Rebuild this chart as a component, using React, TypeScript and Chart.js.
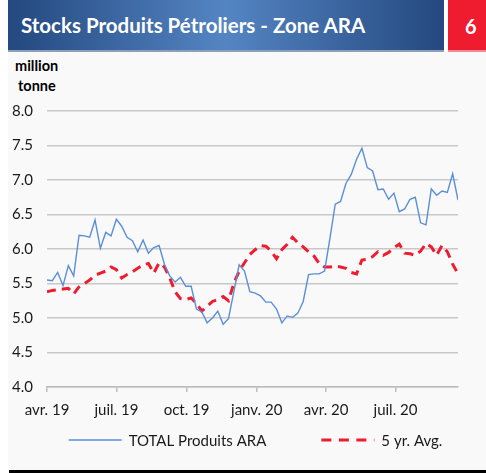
import React, { useEffect, useRef } from "react";
import { Chart, registerables } from "chart.js";

Chart.register(...registerables);

const titleText = "Stocks Produits Pétroliers - Zone ARA";
const pageNumber = "6";
const unitLines = ["million", "tonne"];

// weekly observations, starting week of 1 Apr 2019
const weekStep = 7;
const totalARA = [
  5.55, 5.54, 5.66, 5.47, 5.76, 5.61, 6.2, 6.19, 6.17, 6.42,
  6.01, 6.24, 6.19, 6.43, 6.33, 6.17, 6.12, 5.96, 6.13, 5.94,
  6.02, 6.05, 5.78, 5.61, 5.52, 5.59, 5.46, 5.46, 5.13, 5.09,
  4.93, 5.0, 5.1, 4.91, 4.99, 5.38, 5.77, 5.68, 5.38, 5.36,
  5.32, 5.23, 5.23, 5.13, 4.93, 5.03, 5.01, 5.07, 5.24, 5.63,
  5.64, 5.64, 5.68, 6.15, 6.65, 6.69, 6.95, 7.08, 7.3, 7.46,
  7.18, 7.13, 6.86, 6.87, 6.72, 6.81, 6.54, 6.58, 6.72, 6.75,
  6.38, 6.35, 6.87, 6.78, 6.84, 6.82, 7.09, 6.71,
];
const fiveYrAvg = [
  5.38, 5.4, 5.41, 5.42, 5.43, 5.35, 5.45, 5.5, 5.55, 5.62,
  5.65, 5.68, 5.74, 5.7, 5.58, 5.63, 5.67, 5.72, 5.77, 5.79,
  5.65, 5.8, 5.74, 5.58, 5.38, 5.28, 5.27, 5.29, 5.21, 5.1,
  5.17, 5.24, 5.27, 5.31, 5.25, 5.5, 5.68, 5.8, 5.92, 5.99,
  6.05, 6.04, 5.97, 5.86, 5.99, 6.07, 6.17, 6.09, 6.03, 5.96,
  5.9, 5.79, 5.74, 5.74, 5.75, 5.74, 5.72, 5.66, 5.64, 5.84,
  5.85, 5.89, 5.96, 5.91, 5.95, 6.02, 6.07, 5.94, 5.93, 5.91,
  5.97, 6.08, 6.03, 5.91, 6.05, 5.96, 5.78, 5.64,
];
// x-axis tick positions in days since 1 Apr 2019, with labels
const tickDays = [0, 91, 183, 275, 366, 457];
const tickLabels = ["avr. 19", "juil. 19", "oct. 19", "janv. 20", "avr. 20", "juil. 20"];
const yTicks = ["4.0", "4.5", "5.0", "5.5", "6.0", "6.5", "7.0", "7.5", "8.0"];
const seriesNames = ["TOTAL Produits ARA", "5 yr. Avg."];

const FONT = "Lato, 'Open Sans', sans-serif";
const TEXT = "#1a1a1a";

const lineLegend = {
  id: "lineLegend",
  afterDraw(chart: any) {
    const { ctx, chartArea } = chart;
    ctx.save();
    ctx.font = `15px ${FONT}`;
    const items = chart.data.datasets.map((ds: any) => ({
      ds,
      text: ds.label as string,
      w: ctx.measureText(ds.label).width,
    }));
    const sample = 53;
    const gapText = 7;
    const gapItem = 55;
    const total =
      items.reduce((s: number, it: any) => s + sample + gapText + it.w, 0) +
      gapItem * (items.length - 1);
    let x = (chartArea.left + chartArea.right) / 2 + 3 - total / 2;
    const y = chartArea.bottom + 53;
    items.forEach((it: any) => {
      ctx.strokeStyle = it.ds.borderColor;
      ctx.lineWidth = it.ds.borderWidth;
      ctx.setLineDash(it.ds.borderDash ? [10, 7.5] : []);
      ctx.beginPath();
      ctx.moveTo(x, y);
      ctx.lineTo(x + sample, y);
      ctx.stroke();
      ctx.setLineDash([]);
      x += sample + gapText;
      ctx.fillStyle = TEXT;
      ctx.textBaseline = "middle";
      ctx.textAlign = "left";
      ctx.fillText(it.text, x, y + 1);
      x += it.w + gapItem;
    });
    ctx.restore();
  },
};

function ChartCanvas() {
  const ref = useRef<HTMLCanvasElement | null>(null);
  useEffect(() => {
    if (!ref.current) return;
    const toPts = (arr: number[]) => arr.map((v, i) => ({ x: i * weekStep, y: v }));
    const chart = new Chart(ref.current, {
      type: "line",
      data: {
        datasets: [
          {
            label: seriesNames[0],
            data: toPts(totalARA),
            borderColor: "#5a8fd8",
            backgroundColor: "#5a8fd8",
            borderWidth: 1.4,
            pointRadius: 0,
            pointHoverRadius: 0,
            tension: 0,
          },
          {
            label: seriesNames[1],
            data: toPts(fiveYrAvg),
            borderColor: "#ee1c2e",
            backgroundColor: "#ee1c2e",
            borderWidth: 3,
            borderDash: [9, 6],
            pointRadius: 0,
            pointHoverRadius: 0,
            tension: 0,
          },
        ],
      },
      options: {
        animation: false,
        responsive: false,
        maintainAspectRatio: false,
        layout: { padding: { top: 16, left: 12, right: 28, bottom: 51 } },
        scales: {
          x: {
            type: "linear",
            min: 0,
            max: (totalARA.length - 1) * weekStep,
            afterBuildTicks: (scale: any) => {
              scale.ticks = tickDays.map((v) => ({ value: v }));
            },
            afterFit: (scale: any) => {
              scale.height = 32;
            },
            ticks: {
              autoSkip: false,
              maxRotation: 0,
              padding: 9,
              color: TEXT,
              font: { family: FONT, size: 15 },
              callback: (_v: any, i: number) => tickLabels[i],
            },
            grid: {
              display: true,
              drawOnChartArea: false,
              drawTicks: true,
              tickLength: 5,
              color: "#bdbdbd",
              lineWidth: 1.5,
            },
            border: { display: true, color: "#bdbdbd", width: 1.5 },
          },
          y: {
            min: 4,
            max: 8,
            afterFit: (scale: any) => {
              scale.width = 35;
            },
            afterBuildTicks: (scale: any) => {
              scale.ticks = yTicks.map((t) => ({ value: parseFloat(t) }));
            },
            ticks: {
              padding: 0,
              crossAlign: "far",
              color: TEXT,
              font: { family: FONT, size: 15 },
              callback: (_v: any, i: number) => yTicks[i],
            },
            grid: { color: "#c8c8c8", lineWidth: 1.5, drawTicks: false },
            border: { display: false },
          },
        },
        plugins: {
          legend: { display: false },
          tooltip: { enabled: false },
        },
      },
      plugins: [lineLegend],
    } as any);
    return () => chart.destroy();
  }, []);
  return (
    <canvas
      ref={ref}
      width={486}
      height={375}
      style={{ position: "absolute", left: 0, top: 95, width: 486, height: 375 }}
    />
  );
}

export default function App() {
  return (
    <div
      style={{
        position: "fixed",
        left: 0,
        top: 0,
        width: 486,
        height: 473,
        background: "#ffffff",
        overflow: "hidden",
        fontFamily: FONT,
      }}
    >
      <div style={{ position: "absolute", left: 8, top: 52, width: 478, height: 418, background: "#f9f9f9" }} />
      <div
        style={{
          position: "absolute",
          left: 8,
          top: 0,
          width: 436,
          height: 50,
          background: "linear-gradient(to right, #24487f 0%, #5485c3 50%, #24487f 100%)",
        }}
      />
      <div style={{ position: "absolute", left: 8, top: 50, width: 436, height: 2, background: "#8d9fb9" }} />
      <div
        style={{
          position: "absolute",
          left: 21,
          top: 0,
          height: 50,
          lineHeight: "51px",
          color: "#ffffff",
          fontWeight: 700,
          fontSize: 20.5,
          whiteSpace: "nowrap",
        }}
      >
        {titleText}
      </div>
      <div
        style={{
          position: "absolute",
          left: 448,
          top: 0,
          width: 38,
          height: 50,
          background: "#ee1c2e",
        }}
      />
      <div
        style={{
          position: "absolute",
          left: 465,
          top: 0,
          height: 50,
          color: "#ffffff",
          fontWeight: 700,
          fontSize: 20,
          lineHeight: "52px",
        }}
      >
        {pageNumber}
      </div>
      <div style={{ position: "absolute", left: 448, top: 50, width: 38, height: 2, background: "#f08a95" }} />
      <div
        style={{
          position: "absolute",
          left: 15,
          top: 56,
          fontWeight: 700,
          fontSize: 14.5,
          lineHeight: "20px",
          color: "#000",
        }}
      >
        <div>{unitLines[0]}</div>
        <div style={{ paddingLeft: 3 }}>{unitLines[1]}</div>
      </div>
      <ChartCanvas />
      <div style={{ position: "absolute", left: 9, top: 470, width: 477, height: 3, background: "#000" }} />
    </div>
  );
}
